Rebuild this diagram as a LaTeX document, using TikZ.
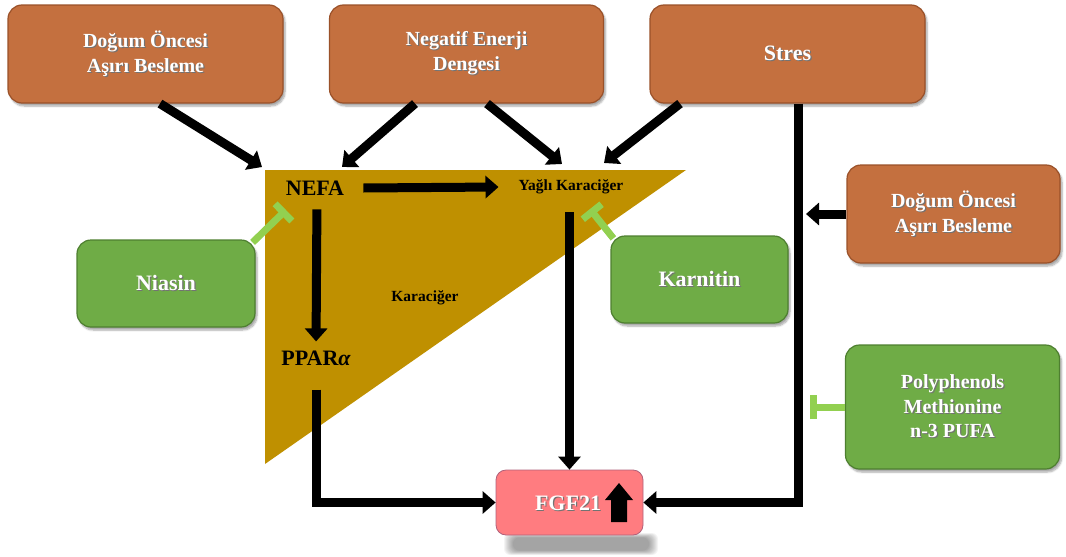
\documentclass[tikz,border=0pt]{standalone}
\usepackage{fontspec}
\setmainfont{Liberation Serif}
\usetikzlibrary{arrows.meta,shadows,shadows.blur,calc}

\definecolor{boxorange}{HTML}{C4703F}
\definecolor{boxorangedark}{HTML}{9A5129}
\definecolor{boxgreen}{HTML}{6FAC46}
\definecolor{boxgreendark}{HTML}{4E7F30}
\definecolor{inhibgreen}{HTML}{92D050}
\definecolor{liver}{HTML}{BF9000}
\definecolor{fgfpink}{HTML}{FF7C80}
\definecolor{fgfedge}{HTML}{B0607A}

% white label text with a soft dark offset copy underneath
\newcommand\shtxt[1]{\makebox[0pt][l]{\kern1.2pt\raisebox{-1.2pt}{\textcolor{black!55}{#1}}}#1}

\tikzset{
  box/.style={rounded corners=14pt, line width=1.2pt, text=white, align=center,
    inner sep=0pt, font=\bfseries\fontsize{20}{25}\selectfont,
    blur shadow={shadow xshift=2pt, shadow yshift=-3pt, shadow opacity=35, shadow blur steps=6}},
  orangebox/.style={box, fill=boxorange, draw=boxorangedark},
  greenbox/.style={box, fill=boxgreen, draw=boxgreendark},
  liverlabel/.style={inner sep=0pt, text=black, font=\bfseries\fontsize{22}{26}\selectfont},
  smalllabel/.style={inner sep=0pt, text=black, font=\bfseries\fontsize{15.5}{18}\selectfont},
  arr/.style={line width=9pt, draw=black, -{Triangle[length=13pt,width=22pt]}},
  inh/.style={line width=7pt, draw=inhibgreen, -{Bar[width=24pt,line width=7pt]}}
}

\begin{document}
\begin{tikzpicture}[x=1pt,y=-1pt]
\useasboundingbox (0,0) rectangle (1066,557);

% liver triangle
\fill[liver] (265,170) -- (686,170) -- (265,464) -- cycle;

% top causes
\node[orangebox, minimum width=275pt, minimum height=98pt] (b1) at (145.5,54)
  {\shtxt{Doğum Öncesi}\\\shtxt{Aşırı Besleme}};
\node[orangebox, minimum width=274pt, minimum height=98pt] (b2) at (466.5,54)
  {\shtxt{Negatif Enerji}\\\shtxt{Dengesi}};
\node[orangebox, minimum width=275pt, minimum height=98pt, font=\bfseries\fontsize{22}{26}\selectfont] (b3) at (787.5,54)
  {\shtxt{Stres}};
\node[orangebox, minimum width=213pt, minimum height=98pt] (b4) at (953.5,214)
  {\shtxt{Doğum Öncesi}\\\shtxt{Aşırı Besleme}};

% supplements
\node[greenbox, minimum width=178pt, minimum height=87pt, font=\bfseries\fontsize{22}{26}\selectfont] (niasin) at (166,283.5)
  {\shtxt{Niasin}};
\node[greenbox, minimum width=177pt, minimum height=87pt, font=\bfseries\fontsize{22}{26}\selectfont] (karnitin) at (699.5,279.5)
  {\shtxt{Karnitin}};
\node[greenbox, minimum width=214pt, minimum height=124pt, font=\bfseries\fontsize{20}{24.5}\selectfont] (poly) at (952.5,407)
  {\shtxt{Polyphenols}\\\shtxt{Methionine}\\\shtxt{n-3 PUFA}};

% soft shadow under the FGF21 box
\foreach \i in {0,...,9}
  \fill[black, opacity=0.045, rounded corners=6pt] (504+\i,533+\i*0.5) rectangle (658-\i,555-\i*0.5);

% FGF21 output
\node[rounded corners=10pt, fill=fgfpink, draw=fgfedge, line width=0.8pt,
  minimum width=147pt, minimum height=65pt, inner sep=0pt] (fgf) at (569.5,502.5) {};
\node[inner sep=0pt, text=white, font=\bfseries\fontsize{22}{26}\selectfont] (fgflabel) at (568,504) {\shtxt{FGF21}};
\fill[black] (619,483) -- (633,500) -- (627,500) -- (627,522) -- (611,522) -- (611,500) -- (605,500) -- cycle;

% liver labels
\node[liverlabel] (nefa) at (315,188) {NEFA};
\node[smalllabel] (yk) at (571,187) {Yağlı Karaciğer};
\node[smalllabel] (karac) at (425,298) {Karaciğer};
\node[liverlabel] (ppar) at (316,358) {PPAR{\itshape α}};

% arrow end points on the liver edge and on the stress line
\coordinate (n1) at (262,167);
\coordinate (n2) at (342,167);
\coordinate (y1) at (562,164);
\coordinate (y2) at (604,163);
\coordinate (s4) at (806,214);
\coordinate (p4) at (810,407);
\coordinate (ni) at (286,210);
\coordinate (ka) at (590,209);

% causes into the liver
\draw[arr] ([xshift=14.5pt]b1.south) -- (n1);
\draw[arr] ([xshift=-51.5pt]b2.south) -- (n2);
\draw[arr] ([xshift=20.5pt]b2.south) -- (y1);
\draw[arr] ([xshift=-107.5pt]b3.south) -- (y2);

% stress pathway straight to FGF21
\draw[arr] ([xshift=11pt]b3.south) |- (fgf.east);
\draw[arr] (b4.west) -- (s4);

% pathways inside the liver
\draw[arr] ([xshift=19pt]nefa.east) -- ([xshift=-20pt]yk.west);
\draw[arr, shorten <=14pt, shorten >=9pt] ([xshift=2pt]nefa.south) -- ([xshift=1pt]nefa.south |- ppar.north);
\draw[arr, shorten <=24pt] (ppar.south) |- (fgf.west);
\draw[arr, shorten <=18pt] (yk.south -| fgf.north) -- (fgf.north);

% inhibitions
\draw[inh] ([xshift=-3pt,yshift=-3pt]niasin.north east) -- (ni);
\draw[inh] ([xshift=3pt,yshift=-3pt]karnitin.north west) -- (ka);
\draw[inh] (poly.west) -- (p4);
\end{tikzpicture}
\end{document}
